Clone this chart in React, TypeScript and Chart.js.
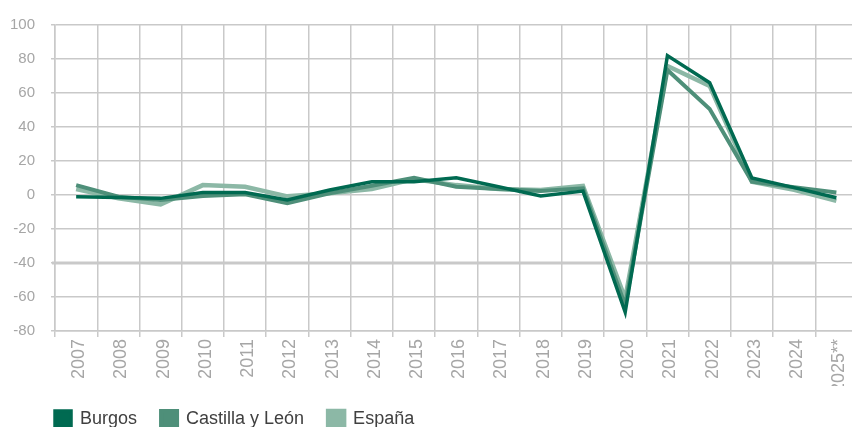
import React, { useEffect, useRef } from "react";
import { Chart, registerables } from "chart.js";

Chart.register(...registerables);

const years = ["2007","2008","2009","2010","2011","2012","2013","2014","2015","2016","2017","2018","2019","2020","2021","2022","2023","2024","2025**"];
const burgos = [-1, -1.5, -2, 1.5, 1.5, -3, 2.9, 7.8, 7.8, 10.1, 4.8, -0.6, 2.3, -69, 82, 66, 10, 4.3, -1.6];
const castilla = [5.8, -1, -3, -0.6, 0.4, -4.9, 1, 5.4, 10.1, 4.8, 3.5, 2.3, 3.9, -65, 73.5, 50.6, 7.8, 4.5, 1.5];
const espana = [3.5, -2, -5.5, 5.8, 4.8, -0.8, 1, 3.5, 9.3, 5.8, 3.5, 2.9, 5.4, -61, 75.9, 64.2, 7.8, 3.1, -3.5];
const yMin = -80;
const yMax = 100;
const yStep = 20;
const refLineValue = -40;
const refLineEndIndex = 17;

const GRID = "#c9c9c9";
const TICK = "#a6a6a6";
const LEGEND_PAD = 24;

const refLinePlugin = {
  id: "refLine",
  afterLayout(chart: any) {
    const l = chart.legend;
    if (l) {
      const shift = chart.chartArea.left - LEGEND_PAD - l.left;
      l.left += shift;
      l.right += shift;
    }
  },
  beforeDatasetsDraw(chart: any) {
    const { ctx, chartArea, scales } = chart;
    const x = scales.x;
    const y = scales.y;
    const half = (x.getPixelForValue(1) - x.getPixelForValue(0)) / 2;
    const yy = y.getPixelForValue(refLineValue);
    ctx.save();
    ctx.strokeStyle = GRID;
    ctx.lineWidth = 3;
    ctx.beginPath();
    ctx.moveTo(chartArea.left - 3, yy);
    ctx.lineTo(x.getPixelForValue(refLineEndIndex) + half, yy);
    ctx.stroke();
    ctx.restore();
  },
};

export default function App() {
  const ref = useRef<HTMLCanvasElement>(null);
  useEffect(() => {
    if (!ref.current) return;
    const font = "'Liberation Sans', Arial, sans-serif";
    const chart = new Chart(ref.current, {
      type: "line",
      data: {
        labels: years,
        datasets: [
          { label: "Burgos", data: burgos, borderColor: "#006a51", backgroundColor: "#006a51", borderWidth: 3.5 },
          { label: "Castilla y León", data: castilla, borderColor: "#4e8f79", backgroundColor: "#4e8f79", borderWidth: 4 },
          { label: "España", data: espana, borderColor: "#8cb8a6", backgroundColor: "#8cb8a6", borderWidth: 4.5 },
        ],
      },
      options: {
        animation: false,
        responsive: true,
        maintainAspectRatio: false,
        elements: { point: { radius: 0, hoverRadius: 0 }, line: { tension: 0, borderJoinStyle: "miter" } },
        layout: { padding: { left: 10, top: 13, right: 1, bottom: 0 } },
        plugins: {
          tooltip: { enabled: false },
          legend: {
            position: "bottom",
            align: "start",
            labels: {
              boxWidth: 16,
              boxHeight: 16,
              padding: LEGEND_PAD,
              color: "#404040",
              font: { family: font, size: 18 },
            },
          },
        },
        scales: {
          x: {
            offset: true,
            grid: { color: GRID, lineWidth: 1.5, offset: true, tickLength: 6, drawTicks: true },
            border: { color: GRID, width: 1.5 },
            ticks: { color: TICK, font: { family: font, size: 18 }, maxRotation: 90, minRotation: 90, padding: 2, autoSkip: false, labelOffset: 3 },
            afterFit: (scale: any) => { scale.height -= 9; },
          },
          y: {
            min: yMin,
            max: yMax,
            grid: { color: GRID, lineWidth: 1.5, tickLength: 4 },
            border: { color: GRID, width: 1.5 },
            ticks: { stepSize: yStep, color: TICK, font: { family: font, size: 15 }, padding: 16 },
            afterFit: (scale: any) => { scale.width -= scale.options.ticks.padding; },
          },
        },
      },
      plugins: [refLinePlugin],
    });
    return () => chart.destroy();
  }, []);
  return (
    <div style={{ position: "fixed", left: 0, top: 0, width: 852, height: 427, overflow: "hidden", background: "#fff" }}>
      <div style={{ position: "absolute", left: 0, top: 0, width: 860, height: 438 }}>
        <canvas ref={ref} />
      </div>
    </div>
  );
}
